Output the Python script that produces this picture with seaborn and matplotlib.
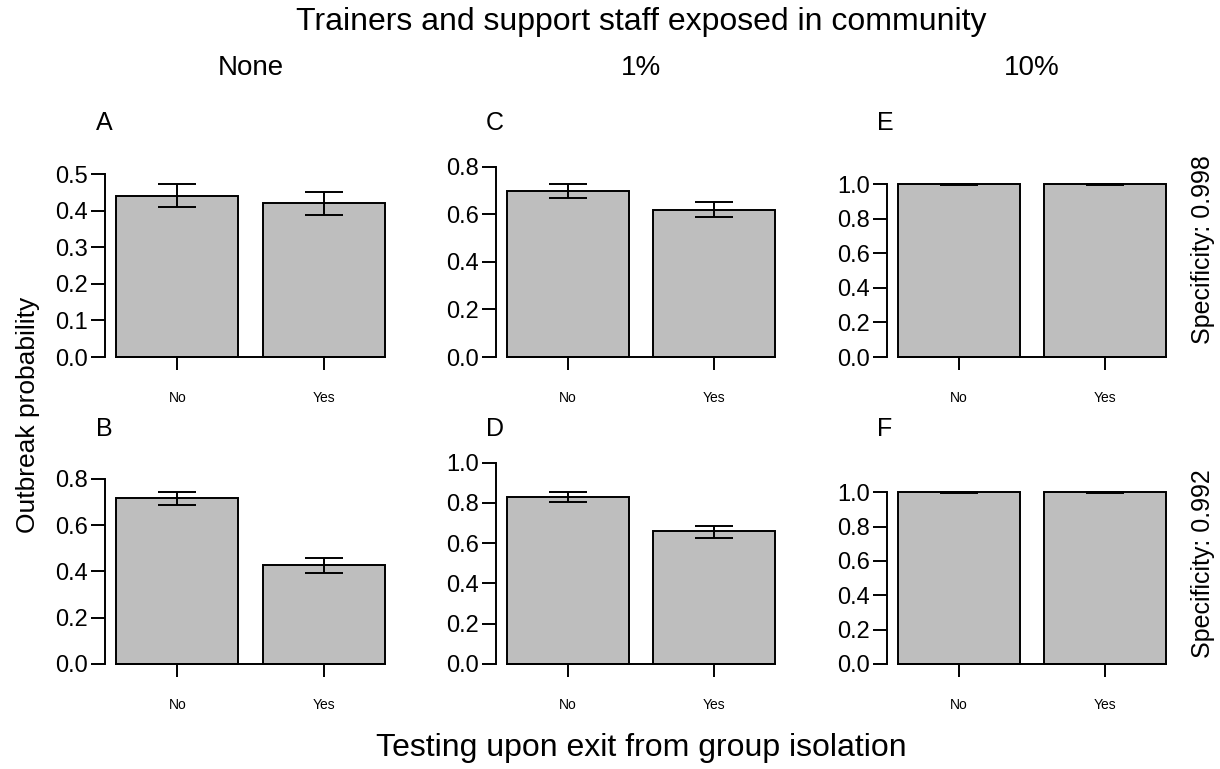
import matplotlib
matplotlib.use("Agg")
import matplotlib.pyplot as plt
import seaborn as sns
import pandas as pd

# data
testing = ["No", "Yes"]
panels = ["A", "B", "C", "D", "E", "F"]
exposure = ["None", "1%", "10%"]
specificity = ["0.998", "0.992"]

prob_A = [0.440, 0.420]
prob_B = [0.715, 0.427]
prob_C = [0.698, 0.620]
prob_D = [0.830, 0.660]
prob_E = [0.999, 0.999]
prob_F = [0.999, 0.999]

lo_A = [0.409, 0.389]
hi_A = [0.472, 0.450]
lo_B = [0.685, 0.395]
hi_B = [0.743, 0.457]
lo_C = [0.668, 0.588]
hi_C = [0.727, 0.651]
lo_D = [0.805, 0.626]
hi_D = [0.853, 0.687]
lo_E = [0.996, 0.996]
hi_E = [1.000, 1.000]
lo_F = [0.996, 0.996]
hi_F = [1.000, 1.000]

probs = [prob_A, prob_B, prob_C, prob_D, prob_E, prob_F]
lows = [lo_A, lo_B, lo_C, lo_D, lo_E, lo_F]
highs = [hi_A, hi_B, hi_C, hi_D, hi_E, hi_F]

# axis settings per panel (A..F)
tick_top = [0.5, 0.8, 0.8, 1.0, 1.0, 1.0]
tick_step = [0.1, 0.2, 0.2, 0.2, 0.2, 0.2]
ylim_top = [0.525, 0.89, 0.807, 1.023, 1.11, 1.20]

sns.set_style("ticks")
plt.rcParams["font.family"] = ["Liberation Sans", "DejaVu Sans"]
plt.rcParams["axes.linewidth"] = 1.4
for key in ["text.color", "axes.labelcolor", "xtick.color", "ytick.color", "axes.edgecolor"]:
    plt.rcParams[key] = "black"

W, H = 1220, 769
fig = plt.figure(figsize=(W / 100, H / 100), dpi=100)

col_left = [105.5, 496, 887]
col_width = 290
row_top = [165, 458]
row_bottom = [364, 671.3]
bar_w = 0.8333
lw = 1.4

for i, name in enumerate(panels):
    col, row = i // 2, i % 2
    ax = fig.add_axes([col_left[col] / W, 1 - row_bottom[row] / H,
                       col_width / W, (row_bottom[row] - row_top[row]) / H])
    df = pd.DataFrame({"testing": testing, "prob": probs[i]})
    sns.barplot(data=df, x="testing", y="prob", color="#bebebe", saturation=1,
                edgecolor="black", linewidth=lw, width=bar_w, errorbar=None, ax=ax)
    mean = probs[i]
    yerr = [[m - l for m, l in zip(mean, lows[i])],
            [h - m for m, h in zip(mean, highs[i])]]
    ax.errorbar(x=[0, 1], y=mean, yerr=yerr, fmt="none", ecolor="black",
                elinewidth=lw, capsize=13.7, capthick=lw, zorder=5)

    half = bar_w / 2
    ax.set_xlim(-half - 0.0733, 1 + half + 0.0733)
    ax.set_ylim(-0.036 * ylim_top[i], ylim_top[i])
    n = int(round(tick_top[i] / tick_step[i]))
    ticks = [k * tick_step[i] for k in range(n + 1)]
    ax.set_yticks(ticks)
    ax.set_yticklabels([f"{t:.1f}" for t in ticks])
    ax.spines["left"].set_bounds(0, tick_top[i])
    ax.spines["bottom"].set_position(("data", 0))
    ax.spines["bottom"].set_bounds(-half, 1 + half)
    ax.spines["top"].set_visible(False)
    ax.spines["right"].set_visible(False)
    ax.tick_params(axis="y", length=10, width=lw, pad=2.5, labelsize=17)
    ax.tick_params(axis="x", length=9.5, width=lw, pad=15, labelsize=10)
    ax.set_xlabel("")
    ax.set_ylabel("")

    # panel letter
    letter_y = 123 if row == 0 else 429
    fig.text((col_left[col] - 10) / W, 1 - letter_y / H, name, fontsize=18,
             ha="left", va="center")

for c, lab in enumerate(exposure):
    fig.text((col_left[c] + col_width / 2) / W, 1 - 68 / H, lab, fontsize=20,
             ha="center", va="center")

for r, spec in enumerate(specificity):
    fig.text(1203 / W, 1 - [250, 564][r] / H, f"Specificity: {spec}", fontsize=18,
             rotation=90, ha="center", va="center")

fig.text(641 / W, 1 - 22 / H, "Trainers and support staff exposed in community",
         fontsize=23, ha="center", va="center")
fig.text(641 / W, 1 - 748 / H, "Testing upon exit from group isolation",
         fontsize=23, ha="center", va="center")
fig.text(28 / W, 1 - 415 / H, "Outbreak probability", fontsize=19,
         rotation=90, ha="center", va="center")

fig.savefig("out.png", dpi=100)
